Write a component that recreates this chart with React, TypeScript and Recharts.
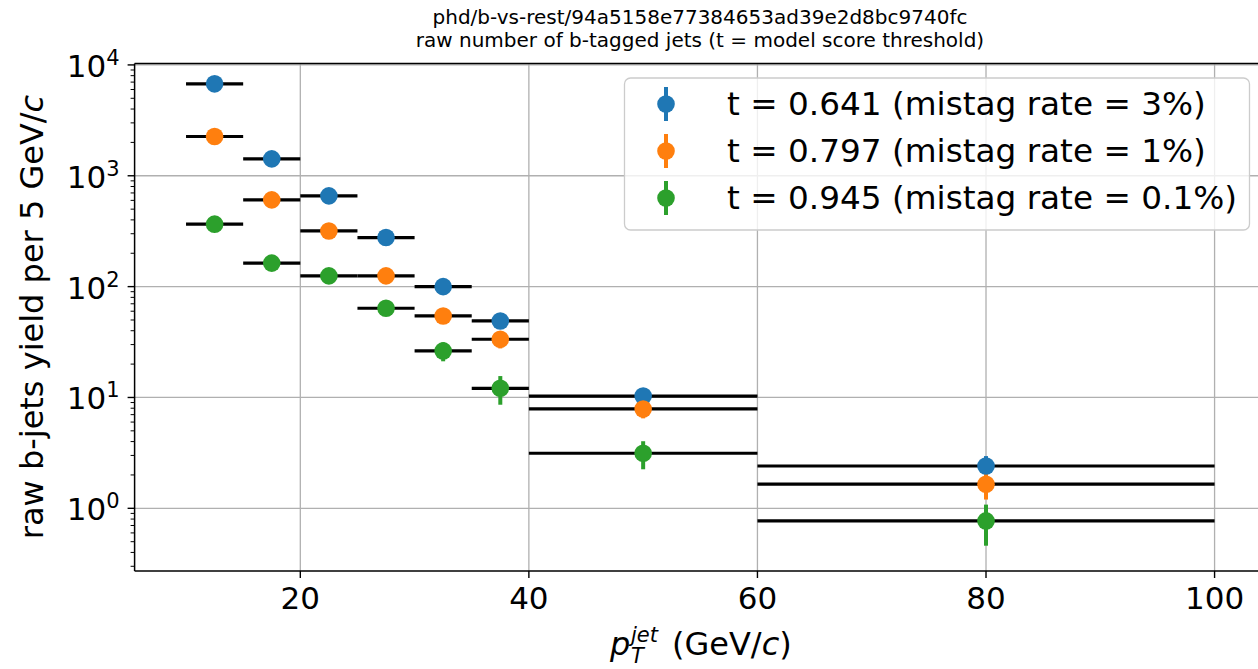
import React from 'react';
import { ScatterChart, Scatter, XAxis, YAxis, CartesianGrid, ErrorBar } from 'recharts';

// pT bins (GeV/c): centres and half widths
const binCenters = [12.5, 17.5, 22.5, 27.5, 32.5, 37.5, 50, 80];
const binHalfWidths = [2.5, 2.5, 2.5, 2.5, 2.5, 2.5, 10, 20];

// raw b-jet yield per 5 GeV/c
const yieldsT641 = [6750, 1420, 659, 277, 100, 49, 10.3, 2.41];
const errorsT641 = [82, 38, 26, 17, 10, 7, 1.6, 0.55];
const yieldsT797 = [2260, 606, 318, 125, 54.4, 33.5, 7.88, 1.65];
const errorsT797 = [48, 25, 18, 11, 7.4, 5.8, 1.4, 0.45];
const yieldsT945 = [366, 163, 125, 63.8, 26.3, 12.1, 3.14, 0.77];
const errorsT945 = [19, 13, 11, 8, 5.1, 3.5, 0.89, 0.31];

const seriesLabels = [
  't = 0.641 (mistag rate = 3%)',
  't = 0.797 (mistag rate = 1%)',
  't = 0.945 (mistag rate = 0.1%)',
];
const seriesColors = ['#1f77b4', '#ff7f0e', '#2ca02c'];

const xTicks = [20, 40, 60, 80, 100];
const yMajorTicks = [1, 10, 100, 1000, 10000];

const X_DOMAIN = [5.5, 104.5];
const Y_DOMAIN = [0.272, 10300];

const FONT = '"DejaVu Sans", Verdana, sans-serif';
const PLOT_LEFT = 134.6;
const PLOT_TOP = 63.5;
const PLOT_BOTTOM = 571;

const yMinorTicks: number[] = [];
[0.1, 1, 10, 100, 1000].forEach((d) => {
  for (let m = 2; m <= 9; m++) {
    const v = +(m * d).toPrecision(3);
    if (v >= Y_DOMAIN[0] && v <= Y_DOMAIN[1]) yMinorTicks.push(v);
  }
});
const yAllTicks = [...yMajorTicks, ...yMinorTicks].sort((a, b) => a - b);

const toRows = (ys: number[], errs: number[]) =>
  binCenters.map((x, i) => ({ x, y: ys[i], xerr: binHalfWidths[i], yerr: errs[i] }));

const series = [
  toRows(yieldsT641, errorsT641),
  toRows(yieldsT797, errorsT797),
  toRows(yieldsT945, errorsT945),
];

const YTick = (props: any) => {
  const { y, payload } = props;
  const lg = Math.log10(payload.value);
  const exp = Math.round(lg);
  const major = Math.abs(lg - exp) < 1e-6;
  return (
    <g>
      <line x1={PLOT_LEFT - (major ? 7 : 4)} x2={PLOT_LEFT} y1={y} y2={y} stroke="#000" strokeWidth={major ? 1.4 : 1} />
      {major && (
        <text x={PLOT_LEFT - 15} y={y + 12} textAnchor="end" fontSize={31} fill="#000" fontFamily={FONT}>
          10
          <tspan dy={-12} fontSize={21}>{exp}</tspan>
        </text>
      )}
    </g>
  );
};

const XTick = (props: any) => {
  const { x, payload } = props;
  return (
    <g>
      <line x1={x} x2={x} y1={PLOT_BOTTOM} y2={PLOT_BOTTOM + 7} stroke="#000" strokeWidth={1.4} />
      <text x={x} y={PLOT_BOTTOM + 38} textAnchor="middle" fontSize={31} fill="#000" fontFamily={FONT}>
        {payload.value}
      </text>
    </g>
  );
};

const Dot = (color: string) => (props: any) =>
  <circle cx={props.cx} cy={props.cy} r={8.8} fill={color} />;

export default function App() {
  return (
    <div style={{ position: 'absolute', left: 0, top: 0, width: 1258, height: 669, overflow: 'hidden', background: '#fff', fontFamily: FONT }}>
      <ScatterChart width={1300} height={669} margin={{ top: PLOT_TOP, right: 34, left: PLOT_LEFT - 100, bottom: 38 }}>
        <CartesianGrid stroke="#b0b0b0" strokeWidth={1.3} horizontalValues={yMajorTicks} verticalValues={xTicks} />
        <XAxis
          type="number"
          dataKey="x"
          domain={X_DOMAIN}
          ticks={xTicks}
          interval={0}
          allowDataOverflow
          height={60}
          tickLine={false}
          axisLine={{ stroke: '#000', strokeWidth: 1.5 }}
          tick={<XTick />}
        />
        <YAxis
          type="number"
          dataKey="y"
          scale="log"
          domain={Y_DOMAIN}
          ticks={yAllTicks}
          interval={0}
          allowDataOverflow
          width={100}
          tickLine={false}
          axisLine={{ stroke: '#000', strokeWidth: 1.5 }}
          tick={<YTick />}
        />
        {series.map((rows, i) => (
          <Scatter key={seriesLabels[i]} name={seriesLabels[i]} data={rows} isAnimationActive={false} shape={Dot(seriesColors[i])}>
            <ErrorBar dataKey="xerr" direction="x" width={0} stroke="#000" strokeWidth={3.2} />
            <ErrorBar dataKey="yerr" direction="y" width={0} stroke={seriesColors[i]} strokeWidth={4} />
          </Scatter>
        ))}
      </ScatterChart>

      <svg width={1258} height={669} style={{ position: 'absolute', left: 0, top: 0, pointerEvents: 'none' }} fontFamily={FONT}>
        <line x1={PLOT_LEFT} x2={1258} y1={PLOT_TOP} y2={PLOT_TOP} stroke="#000" strokeWidth={1.5} />
        <text x={700} y={24} textAnchor="middle" fontSize={20} fill="#000">phd/b-vs-rest/94a5158e77384653ad39e2d8bc9740fc</text>
        <text x={700} y={47} textAnchor="middle" fontSize={20} fill="#000">raw number of b-tagged jets (t = model score threshold)</text>

        <text transform="translate(43,317) rotate(-90)" textAnchor="middle" fontSize={32} fill="#000">
          raw b-jets yield per 5 GeV/<tspan fontStyle="italic">c</tspan>
        </text>

        <text x={610} y={655} fontSize={32} fill="#000">
          <tspan fontStyle="italic">p</tspan>
          <tspan x={631} dy={8} fontSize={21} fontStyle="italic">T</tspan>
          <tspan x={631} dy={-21} fontSize={21} fontStyle="italic">jet</tspan>
          <tspan x={672} dy={13}>(GeV/</tspan>
          <tspan fontStyle="italic">c</tspan>
          <tspan>)</tspan>
        </text>

        <rect x={624.5} y={78} width={625} height={152} rx={6} fill="#fff" fillOpacity={0.8} stroke="#cccccc" strokeWidth={1.3} />
        {seriesLabels.map((label, i) => {
          const cy = 104 + i * 47;
          return (
            <g key={label}>
              <line x1={666} x2={666} y1={cy - 17} y2={cy + 17} stroke={seriesColors[i]} strokeWidth={4} />
              <circle cx={666} cy={cy} r={8.8} fill={seriesColors[i]} />
              <text x={727} y={cy + 11} fontSize={32.7} fill="#000">{label}</text>
            </g>
          );
        })}
      </svg>
    </div>
  );
}
